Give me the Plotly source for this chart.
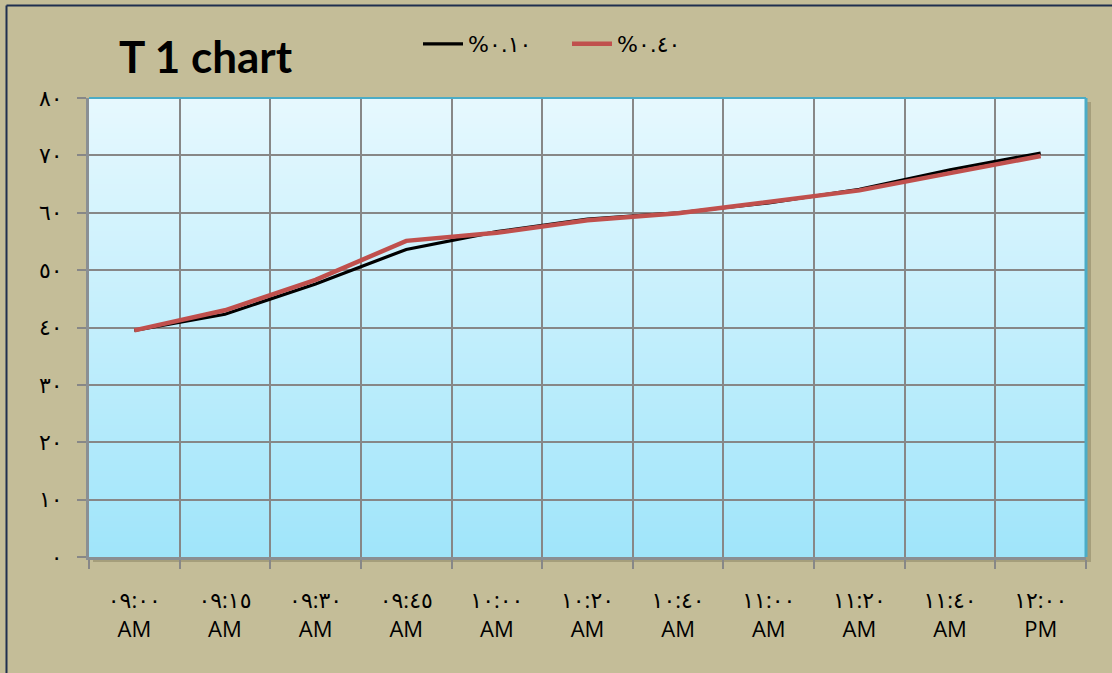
import plotly.graph_objects as go

# Time slots (Arabic-Indic digits) and the two series
times = ["٠٩:٠٠<br>AM", "٠٩:١٥<br>AM", "٠٩:٣٠<br>AM", "٠٩:٤٥<br>AM", "١٠:٠٠<br>AM",
         "١٠:٢٠<br>AM", "١٠:٤٠<br>AM", "١١:٠٠<br>AM", "١١:٢٠<br>AM", "١١:٤٠<br>AM",
         "١٢:٠٠<br>PM"]
series_010 = [39.5, 42.3, 47.6, 53.6, 56.7, 58.9, 60.0, 61.7, 64.1, 67.5, 70.4]
series_040 = [39.5, 43.0, 48.3, 55.1, 56.5, 58.7, 59.9, 62.0, 63.9, 66.9, 69.9]
name_010 = "%٠.١٠"
name_040 = "%٠.٤٠"
y_ticks = [0, 10, 20, 30, 40, 50, 60, 70, 80]
y_labels = ["٠", "١٠", "٢٠", "٣٠", "٤٠", "٥٠", "٦٠", "٧٠", "٨٠"]

W, H = 1112, 673
ML, MR, MT, MB = 89, 26, 98, 116
PW, PH = W - ML - MR, H - MT - MB

def px_x(p):
    return (p - ML) / PW

def px_y(p):
    return (H - MB - p) / PH

x_idx = list(range(len(times)))

fig = go.Figure()
fig.add_trace(go.Scatter(x=x_idx, y=series_010, mode="lines", name=name_010,
                         line=dict(color="#000000", width=3.2)))
fig.add_trace(go.Scatter(x=x_idx, y=series_040, mode="lines", name=name_040,
                         line=dict(color="#C0504D", width=4.5)))

shapes = []
# outer chart border (left and top edges)
shapes.append(dict(type="line", xref="paper", yref="paper", layer="below",
                   x0=px_x(6.5), x1=px_x(6.5), y0=px_y(H + 5), y1=px_y(5.5),
                   line=dict(color="#1F2F4F", width=2)))
shapes.append(dict(type="line", xref="paper", yref="paper", layer="below",
                   x0=px_x(6.5), x1=px_x(W + 5), y0=px_y(5.5), y1=px_y(5.5),
                   line=dict(color="#1F2F4F", width=2)))
# plot-area drop shadow
shapes.append(dict(type="rect", xref="paper", yref="paper", layer="below",
                   x0=px_x(ML + 4), x1=px_x(ML + PW + 5), y0=px_y(MT + PH + 5), y1=px_y(MT + 4),
                   line=dict(width=0), fillcolor="rgba(110,100,70,0.35)"))
# vertical gradient fill of the plot area
top_c = (0xE6, 0xF8, 0xFE)
bot_c = (0xA0, 0xE5, 0xFA)
n_bands = 90
for i in range(n_bands):
    t = i / (n_bands - 1)
    c = tuple(round(bot_c[k] + (top_c[k] - bot_c[k]) * t) for k in range(3))
    shapes.append(dict(type="rect", xref="paper", yref="paper", layer="below",
                       x0=0, x1=1, y0=i / n_bands, y1=(i + 1) / n_bands + 0.002,
                       line=dict(width=0), fillcolor="rgb(%d,%d,%d)" % c))
# blue top and right edges of the plot area
shapes.append(dict(type="line", xref="paper", yref="paper", layer="above",
                   x0=0, x1=1, y0=1, y1=1, line=dict(color="#4BACC6", width=2)))
shapes.append(dict(type="line", xref="paper", yref="paper", layer="above",
                   x0=1, x1=1, y0=0, y1=1, line=dict(color="#4BACC6", width=3)))

fig.update_layout(
    width=W, height=H,
    margin=dict(l=ML, r=MR, t=MT, b=MB, pad=0),
    paper_bgcolor="#C4BD98",
    plot_bgcolor="rgba(0,0,0,0)",
    shapes=shapes,
    showlegend=True,
    legend=dict(orientation="h", x=px_x(418), y=px_y(44), xanchor="left", yanchor="middle",
                bgcolor="rgba(0,0,0,0)", font=dict(family="DejaVu Sans", size=22, color="#000"),
                itemwidth=40, entrywidth=94, tracegroupgap=0),
    annotations=[dict(text="<b>T 1 chart</b>", xref="paper", yref="paper",
                      x=px_x(206), y=px_y(56), xanchor="center", yanchor="middle",
                      showarrow=False, font=dict(family="Lato, Open Sans", size=44, color="#000"))],
    xaxis=dict(
        range=[-0.5, len(times) - 0.5],
        tickmode="array", tickvals=x_idx, ticktext=times,
        ticks="", showgrid=False, zeroline=False,
        showline=True, linecolor="#8A8F93", linewidth=3,
        tickfont=dict(family="Open Sans, DejaVu Sans", size=22, color="#000"),
        ticklabelstandoff=22,
        minor=dict(tickmode="linear", tick0=-0.5, dtick=1, showgrid=True,
                   gridcolor="#878787", gridwidth=2, ticks="outside", ticklen=9,
                   tickcolor="#878787", tickwidth=2),
    ),
    yaxis=dict(
        range=[0, 80], tickmode="array", tickvals=y_ticks, ticktext=y_labels,
        showgrid=True, gridcolor="#878787", gridwidth=2, zeroline=False,
        showline=True, linecolor="#8A8F93", linewidth=3,
        ticks="outside", ticklen=9, tickcolor="#878787", tickwidth=2,
        tickfont=dict(family="DejaVu Sans", size=22, color="#000"),
        ticklabelstandoff=10,
    ),
)

fig.write_html("out.html")
